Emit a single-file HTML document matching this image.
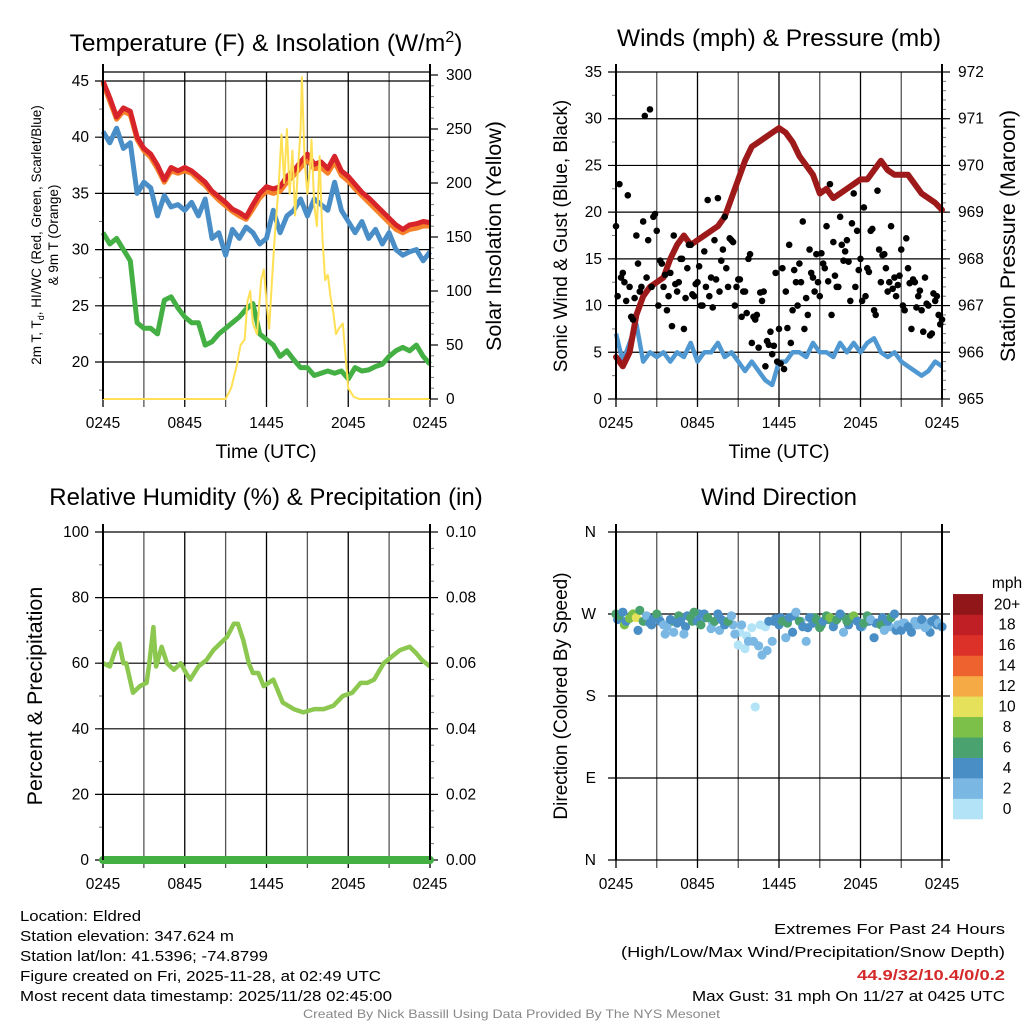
<!DOCTYPE html>
<html><head><meta charset="utf-8"><style>
html,body{margin:0;padding:0;background:#fff}
svg{display:block;font-family:"Liberation Sans",sans-serif}
</style></head><body>
<svg id="root" width="1024" height="1024" viewBox="0 0 1024 1024" xmlns="http://www.w3.org/2000/svg">
<rect width="1024" height="1024" fill="#fff"/>
<g id="g1"></g>
<g id="g2"></g>
<g id="g3"></g>
<g id="g4"></g>
<g font-family="'Liberation Sans Narrow','Liberation Sans',sans-serif" font-size="15" fill="#000">
<text x="20" y="921" textLength="121" lengthAdjust="spacingAndGlyphs">Location: Eldred</text>
<text x="20" y="941" textLength="214" lengthAdjust="spacingAndGlyphs">Station elevation: 347.624 m</text>
<text x="20" y="961" textLength="248" lengthAdjust="spacingAndGlyphs">Station lat/lon: 41.5396; -74.8799</text>
<text x="20" y="981" textLength="361" lengthAdjust="spacingAndGlyphs">Figure created on Fri, 2025-11-28, at 02:49 UTC</text>
<text x="20" y="1001" textLength="372" lengthAdjust="spacingAndGlyphs">Most recent data timestamp: 2025/11/28 02:45:00</text>
<text x="774" y="934" textLength="231" lengthAdjust="spacingAndGlyphs">Extremes For Past 24 Hours</text>
<text x="621" y="957" textLength="384" lengthAdjust="spacingAndGlyphs">(High/Low/Max Wind/Precipitation/Snow Depth)</text>
<text x="857" y="980" textLength="148" lengthAdjust="spacingAndGlyphs" fill="#d42a2a" font-weight="bold">44.9/32/10.4/0/0.2</text>
<text x="692" y="1001" textLength="313" lengthAdjust="spacingAndGlyphs">Max Gust: 31 mph On 11/27 at 0425 UTC</text>
<text x="303" y="1018" textLength="417" lengthAdjust="spacingAndGlyphs" font-size="12" fill="#888">Created By Nick Bassill Using Data Provided By The NYS Mesonet</text>
</g>
</svg>
<script>
// ---------- data ----------
const timeTicks = ["0245","0845","1445","2045","0245"];
const tempRed = [45,43.5,41.8,42.6,42.3,40,39,38.5,37.5,36.2,37.3,37,37.3,37,36.5,36,35.2,34.7,34.2,33.6,33.3,32.9,34,35,35.6,35.4,35.6,36.5,37,37.8,38.5,37.6,37.8,37.2,38.3,37,36.5,35.8,35.1,34.6,34,33.4,32.8,32.2,31.8,32.2,32.3,32.5,32.4];
const tempOrange = [44.8,43.2,41.6,42.3,42,39.8,38.8,38.2,37.2,36,37,36.8,37,36.8,36.2,35.7,35,34.4,33.9,33.4,33,32.7,33.6,34.6,35.2,35,35.2,36,36.6,37.3,38,37.2,37.3,36.8,37.8,36.6,36.1,35.4,34.8,34.2,33.6,33,32.4,31.8,31.5,31.8,31.9,32.1,32.1];
const tempBlue = [40.5,39.5,40.8,39,39.5,35,36,35.5,33,34.8,33.8,34,33.5,34.2,33,34.5,31,31.5,29.5,31.8,31,32,31.5,30.5,31,33.5,31.5,33,33.5,34.5,33,34.5,34,33.5,36,33.5,32.5,31.5,32.5,31,31.8,30.5,31.5,30,29.5,29.8,30,29,29.8];
const dewGreen = [31.5,30.5,31,30,29,23.5,23,23,22.5,25.5,25.8,24.8,24,23.5,23.5,21.5,21.8,22.5,23,23.5,24,24.7,25.2,22.5,22,21.5,20.5,21,20.2,19.5,19.5,18.8,19,19.2,19,19.2,18.5,19.5,19.2,19.3,19.6,19.8,20.5,21,21.3,21,21.5,20.5,19.8];
const solarHours = [0,9.0,9.4,9.8,10.1,10.4,10.6,10.8,11.0,11.3,11.6,11.8,12.0,12.2,12.4,12.6,12.9,13.1,13.3,13.5,13.7,13.9,14.1,14.3,14.5,14.6,14.8,15.0,15.2,15.3,15.5,15.7,15.9,16.1,16.3,16.5,16.7,16.9,17.1,17.3,17.6,17.8,18.0,18.4,18.8,24];
const solarValues = [0,0,10,30,50,55,90,100,70,60,110,120,90,65,110,150,200,245,200,250,190,230,170,210,250,298,220,190,215,240,180,160,225,150,110,115,95,80,60,65,70,40,10,2,0,0];
const windSustained = [7,4,6,8,4,5,4.5,5,4,5,4.5,6,4,5,5,6,4.5,5,4,3,4,3,2,1.5,4,4,5,5,4.5,6,5,5,4.5,6,5,6,5,6,6.5,5,4.5,5,4,3.5,3,2.5,3,4,3.5];
const windGust = [18.5,23,13.5,10.5,12,8.5,17.5,11.5,19,13,31,19.5,18,14.8,12,9.5,13.5,17.5,11.5,15,7.5,14,16.5,11,12.5,10,15.8,21.3,13,17,21.5,14.8,19.5,12,17,10,12.8,8.8,11.5,15,6,8.5,5.5,10.5,3.5,5.8,4.8,13.5,7.5,14,11.5,16.5,9.5,12.5,14.5,19,10.8,16,13,15.5,11,14.5,18.5,23,16.8,12,19.5,14.8,17,10.5,22,18,15,20.5,14,18,9.5,22.3,12.5,15.5,11.5,18.5,13,12.2,16,9.5,14,7.5,12.5,11,9.5,13,10,7,10.5,9,8.5];
const windGust2 = [13,21.8,10.8,12,17,19.8,14.5,11,12.3,15,16.5,12.3,10,11,12.8,16,17.2,12,11.5,15.5,9,11.5,7.2,4,3.2,6,10,7.5,13.5,12.5,14,9,12,15.8,18.8,13.8,11,18.2,16,14,11.8,13.2,17.2,12.8,11.6,10.2,11.3,8];
const windGust3 = [11,12.5,8.8,14.5,30.3,12,10,13.3,7.8,12.5,10.8,11.2,14.2,12,9.8,11.5,14,16.8,12.8,9.2,8.8,11.4,6.2,5.7,3.8,7.6,13.8,12.5,9,11.5,15.6,12.6,13.2,16.5,14.7,12,10.5,13.6,9,15.4,12.5,11,10,12.4,9.8,7.2,6.8,11];
const pressure = [965.9,965.7,966.0,966.8,967.2,967.4,967.5,967.6,968.0,968.3,968.5,968.3,968.4,968.5,968.6,968.7,968.9,969.3,969.7,970.1,970.4,970.5,970.6,970.7,970.8,970.7,970.5,970.2,970.0,969.8,969.4,969.5,969.3,969.4,969.5,969.6,969.7,969.7,969.9,970.1,969.9,969.8,969.8,969.8,969.6,969.4,969.3,969.2,969.05];
const rhHours = [0,0.5,0.9,1.2,1.5,1.7,2.2,2.7,3.2,3.4,3.7,3.9,4.3,4.7,5.2,5.7,6.1,6.4,7,7.6,8.1,8.6,9.1,9.6,9.9,10.3,10.7,11,11.4,11.8,12.5,13.2,14,14.7,15.5,16.2,16.9,17.6,18.3,18.9,19.4,19.9,20.6,21.2,21.8,22.5,23,23.4,24];
const rhValues = [60,59,64,66,60,60,51,53,54,60,71,59,65,60,58,60,57,55,59,61,64,66,68,72,72,67,60,57,57,53,55,48,46,45,46,46,47,50,51,54,54,55,60,62,64,65,63,61,59];
const precip = [0,0,0,0,0];
const dirValues = [270,268,272,262,265,270,266,274,262,268,260,265,270,262,258,256,264,250,260,262,248,268,266,272,262,258,270,266,254,262,270,264,258,262,268,248,236,258,232,240,255,168,235,225,256,262,240,265,258,262,244,266,250,272,262,256,240,266,260,264,255,262,268,266,256,264,270,250,262,266,268,262,256,260,268,264,244,260,258,252,262,266,270,258,252,260,256,250,262,258,264,255,258,262,264,260,256];
const dirSpeeds = [7,6,4,5,8,9,10,7,6,3,5,4,6,4,3,2,4,3,5,4,2,5,6,7,4,6,5,7,3,6,5,4,5,7,3,2,1,3,0,2,1,0,2,3,1,4,3,4,5,6,3,5,4,3,6,5,3,4,5,6,7,5,6,8,4,6,5,3,6,7,8,5,4,6,7,3,5,4,6,3,5,6,4,3,4,3,5,4,2,3,4,2,3,4,5,2,4];
const dirValues2 = [264,258,268,252,262,258,266,248,262,268,256,262,270,266,260,252,262,258,250,246,240,258,230,262,266,260,268,262,255,266,258,264,262,268,258,264,256,262,260,266,256,252,260,254,258,262,250,258];
const dirSpeeds2 = [5,8,6,4,3,4,2,3,6,7,5,6,5,4,3,2,1,2,0,1,2,1,3,4,5,6,4,3,5,6,7,6,5,6,4,5,3,4,5,4,3,4,2,3,2,3,4,5];
const cbLabels = ["0","2","4","6","8","10","12","14","16","18","20+"];
const cbColors = ["#b3e3f7","#7ab7e3","#4a8ec6","#4aa36e","#7cc04a","#e6e15a","#f5aa45","#ee6230","#dc3128","#c01f25","#91161a"];

// ---------- helpers ----------
const NS="http://www.w3.org/2000/svg";
function mk(parent,tag,attrs,txt){const e=document.createElementNS(NS,tag);for(const k in attrs)e.setAttribute(k,attrs[k]);if(txt!==undefined)e.textContent=txt;parent.appendChild(e);return e;}
function lin(d0,d1,r0,r1){return v=>r0+(v-d0)/(d1-d0)*(r1-r0);}
function pathOf(xs,ys){return xs.map((x,i)=>(i?'L':'M')+x.toFixed(1)+','+ys[i].toFixed(1)).join('');}

function frame(g,P){
  const X=lin(0,24,P.x0,P.x1);
  for(let h=0;h<=24;h+=3){
    const x=X(h);
    const vl=mk(g,'line',{x1:x,y1:P.y0,x2:x,y2:P.y1+8,stroke:(h%6===0?'#000':'#555'),'stroke-width':1.3});
    
    
  }
  timeTicks.forEach((t,i)=>{
    const tl=mk(g,'text',{x:X(i*6),y:P.y1+29,'text-anchor':'middle','font-size':15.5},t);
    
    
  });
  return X;
}
function leftAxis(g,P,d0,d1,ticks,minor,labels,Y){
  minor.forEach(v=>{const y=Y(v);mk(g,'line',{x1:P.x0-4,y1:y,x2:P.x0,y2:y,stroke:'#777','stroke-width':1});});
  ticks.forEach((v,i)=>{
    const y=Y(v);
    const gl=mk(g,'line',{x1:P.x0-8,y1:y,x2:P.x1,y2:y,stroke:'#000','stroke-width':1.2});
    
    
    const lb=mk(g,'text',{x:P.x0-14,y:y+5,'text-anchor':'end','font-size':15.5},labels[i]);
    
    
  });
}
function rightAxis(g,P,ticks,minor,labels,Y){
  minor.forEach(v=>{const y=Y(v);mk(g,'line',{x1:P.x1,y1:y,x2:P.x1+4,y2:y,stroke:'#777','stroke-width':1});});
  ticks.forEach((v,i)=>{
    const y=Y(v);
    mk(g,'line',{x1:P.x1,y1:y,x2:P.x1+8,y2:y,stroke:'#000','stroke-width':1.2});
    const lb=mk(g,'text',{x:P.x1+16,y:y+5,'font-size':15.5},labels[i]);
    
    
  });
}
function border(g,P){
  mk(g,'line',{x1:P.x0,y1:P.y0-8,x2:P.x0,y2:P.y1,stroke:'#000','stroke-width':2});
  mk(g,'line',{x1:P.x1,y1:P.y0-8,x2:P.x1,y2:P.y1,stroke:'#000','stroke-width':2});
}
function title(g,x,y,txt,size,name){const t=mk(g,'text',{x:x,y:y,'text-anchor':'middle','font-size':size},txt);return t;}
function vtitle(g,x,y,txt,size,name){const t=mk(g,'text',{x:x,y:y,'text-anchor':'middle','font-size':size,transform:`rotate(-90 ${x} ${y})`},txt);return t;}
function range(a,b,s){const r=[];for(let v=a;v<=b+1e-9;v+=s)r.push(+v.toFixed(4));return r;}

// ---------- panel 1 ----------
(function(){
  const g=document.getElementById('g1');
  const P={x0:103,x1:430,y0:72,y1:399};
  const X=frame(g,P);
  const Y=lin(20,45,362,81), YR=lin(0,300,399,75);
  mk(g,'line',{x1:P.x0,y1:P.y0,x2:P.x1,y2:P.y0,stroke:'#000','stroke-width':1.2});
  leftAxis(g,P,0,0,range(20,45,5),range(17.5,45,2.5),range(20,45,5).map(String),Y);
  rightAxis(g,P,range(0,300,50),range(0,300,10),range(0,300,50).map(String),YR);
  const tX=tempRed.map((v,i)=>X(i*0.5));
  const s1=mk(g,'path',{d:pathOf(tX,tempBlue.map(Y)),fill:'none',stroke:'#4a8ec8','stroke-width':5,'stroke-linejoin':'round'});
  
  const s2=mk(g,'path',{d:pathOf(tX,dewGreen.map(Y)),fill:'none',stroke:'#44b044','stroke-width':5,'stroke-linejoin':'round'});
  
  const s3=mk(g,'path',{d:pathOf(tX,tempOrange.map(Y)),fill:'none',stroke:'#f5822a','stroke-width':5,'stroke-linejoin':'round'});
  
  const s4=mk(g,'path',{d:pathOf(tX,tempRed.map(Y)),fill:'none',stroke:'#d7242a','stroke-width':5,'stroke-linejoin':'round'});
  
  const s5=mk(g,'path',{d:pathOf(solarHours.map(X),solarValues.map(YR)),fill:'none',stroke:'#ffe054','stroke-width':2,'stroke-linejoin':'round'});
  
  border(g,P);
  const t=title(g,266,51,'Temperature (F) & Insolation (W/m',24.5,'temperature-title');
  mk(t,'tspan',{dy:-9,'font-size':16},'2');
  mk(t,'tspan',{dy:9},')');
  title(g,266,458,'Time (UTC)',19.5,'x-axis-title');
  const lt=mk(g,'text',{x:41,y:235,'text-anchor':'middle','font-size':13.5,transform:'rotate(-90 41 235)'});
  
  mk(lt,'tspan',{},'2m T, T');mk(lt,'tspan',{'font-size':9,dy:3},'d');mk(lt,'tspan',{dy:-3},', HI/WC (Red, Green, Scarlet/Blue)');
  vtitle(g,58,235,'& 9m T (Orange)',13.5,'temperature-y-title-2');
  vtitle(g,501,236,'Solar Insolation (Yellow)',21.5,'solar-y-title');
})();

// ---------- panel 2 ----------
(function(){
  const g=document.getElementById('g2');
  const P={x0:616,x1:942,y0:72,y1:399};
  const X=frame(g,P);
  const Y=lin(0,35,399,72), YP=lin(965,972,399,72);
  leftAxis(g,P,0,0,range(0,35,5),range(0,35,2.5),range(0,35,5).map(String),Y);
  rightAxis(g,P,range(965,972,1),range(965,972,0.2),range(965,972,1).map(String),YP);
  const s1=mk(g,'path',{d:pathOf(windSustained.map((v,i)=>X(i*0.5)),windSustained.map(Y)),fill:'none',stroke:'#4f98d2','stroke-width':4.5,'stroke-linejoin':'round'});
  
  const s2=mk(g,'path',{d:pathOf(pressure.map((v,i)=>X(i*0.5)),pressure.map(YP)),fill:'none',stroke:'#9e1a1a','stroke-width':6,'stroke-linejoin':'round','stroke-linecap':'round'});
  
  windGust.forEach((v,i)=>{
    const c=mk(g,'circle',{cx:X(i*0.25),cy:Y(v),r:3.3,fill:'#000'});
    
    
  });
  windGust2.forEach((v,i)=>{
    const c=mk(g,'circle',{cx:X(i*0.5+0.37),cy:Y(v),r:3.3,fill:'#000'});
    
    
  });
  windGust3.forEach((v,i)=>{
    const c=mk(g,'circle',{cx:X(i*0.5+0.12),cy:Y(v),r:3.3,fill:'#000'});
    
    
  });
  border(g,P);
  title(g,779,46,'Winds (mph) & Pressure (mb)',24.5,'winds-title');
  title(g,779,458,'Time (UTC)',19.5,'x-axis-title');
  vtitle(g,567,236,'Sonic Wind & Gust (Blue, Black)',19,'wind-y-title');
  vtitle(g,1015,236,'Station Pressure (Maroon)',21.5,'pressure-y-title');
})();

// ---------- panel 3 ----------
(function(){
  const g=document.getElementById('g3');
  const P={x0:103,x1:430,y0:532,y1:860};
  const X=frame(g,P);
  const Y=lin(0,100,860,532), YR=lin(0,0.1,860,532);
  leftAxis(g,P,0,0,range(0,100,20),range(0,100,10),range(0,100,20).map(String),Y);
  rightAxis(g,P,range(0,0.1,0.02),range(0,0.1,0.005),range(0,0.1,0.02).map(v=>v.toFixed(2)),YR);
  const s1=mk(g,'path',{d:pathOf(rhHours.map(X),rhValues.map(Y)),fill:'none',stroke:'#8cc850','stroke-width':4.5,'stroke-linejoin':'round'});
  
  const s2=mk(g,'path',{d:pathOf(precip.map((v,i)=>X(i*6)),precip.map(YR)),fill:'none',stroke:'#44b044','stroke-width':8,'stroke-linecap':'round'});
  
  border(g,P);
  title(g,266,505,'Relative Humidity (%) & Precipitation (in)',24,'humidity-title');
  vtitle(g,42,696,'Percent & Precipitation',21.5,'humidity-y-title');
})();

// ---------- panel 4 ----------
(function(){
  const g=document.getElementById('g4');
  const P={x0:616,x1:942,y0:532,y1:860};
  const X=frame(g,P);
  const Y=lin(0,360,860,532);
  const dirTicks=[0,90,180,270,360], dirLabels=["N","E","S","W","N"];
  dirTicks.forEach((v,i)=>{
    const y=Y(v);
    mk(g,'line',{x1:P.x0-8,y1:y,x2:P.x1+8,y2:y,stroke:'#000','stroke-width':1.2});
    const lb=mk(g,'text',{x:P.x0-20,y:y+5,'text-anchor':'end','font-size':15.5},dirLabels[i]);
    
    
  });
  dirValues2.forEach((v,i)=>{
    const bin=Math.min(10,Math.floor(dirSpeeds2[i]/2));
    const c=mk(g,'circle',{cx:X(i*0.5+0.12),cy:Y(v),r:4.6,fill:cbColors[bin]});
    
    
  });
  dirValues.forEach((v,i)=>{
    const bin=Math.min(10,Math.floor(dirSpeeds[i]/2));
    const c=mk(g,'circle',{cx:X(i*0.25),cy:Y(v),r:4.6,fill:cbColors[bin]});
    
    
  });
  border(g,P);
  title(g,779,505,'Wind Direction',24,'direction-title');
  vtitle(g,567,696,'Direction (Colored By Speed)',19,'direction-y-title');
  const cb=mk(g,'g',{});
  
  
  const cy0=819, bh=20.45;
  cbColors.forEach((c,i)=>{
    const r=mk(cb,'rect',{x:953,y:cy0-(i+1)*bh,width:30,height:bh+0.3,fill:c});
    
    
    const t=mk(cb,'text',{x:1007,y:cy0-(i+0.5)*bh+5,'text-anchor':'middle','font-size':15.5},cbLabels[i]);
    
    
  });
  const u=mk(cb,'text',{x:1007,y:588,'text-anchor':'middle','font-size':15.5},'mph');
  
  
})();
</script>
</body></html>
